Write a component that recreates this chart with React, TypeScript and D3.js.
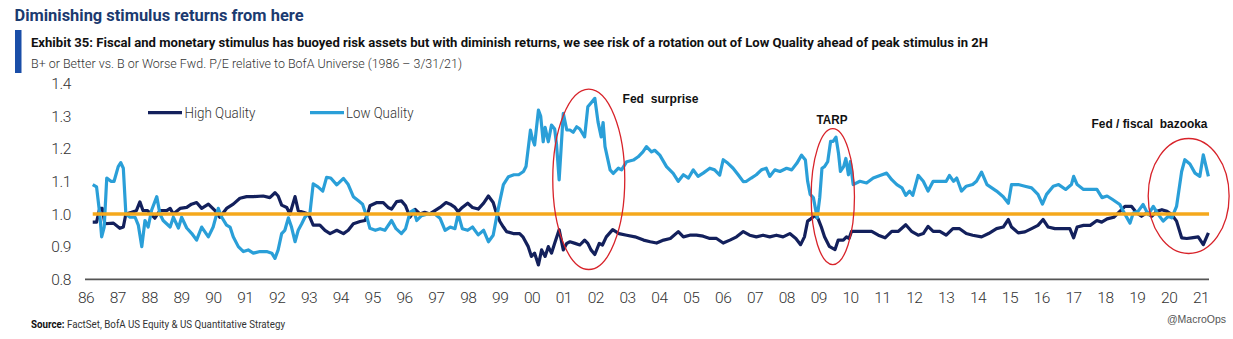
import React from "react";
import * as d3 from "d3";

const titleText = "Diminishing stimulus returns from here";
const exhibitText =
  "Exhibit 35: Fiscal and monetary stimulus has buoyed risk assets but with diminish returns, we see risk of a rotation out of Low Quality ahead of peak stimulus in 2H";
const subtitleText = "B+ or Better vs. B or Worse Fwd. P/E relative to BofA Universe (1986 \u2013 3/31/21)";
const sourceLabel = "Source:";
const sourceText = " FactSet, BofA US Equity & US Quantitative Strategy";
const creditText = "@MacroOps";

const yTicks = [0.8, 0.9, 1.0, 1.1, 1.2, 1.3, 1.4];
const xTickYears = d3.range(1986, 2022);
const seriesNames = ["High Quality", "Low Quality"];
const baselineValue = 1.0;

// [year, value]
const lowQuality: [number, number][] = [
  [1986.18, 1.09], [1986.3, 1.083], [1986.4, 1.0], [1986.46, 0.93], [1986.54, 0.96], [1986.62, 1.11],
  [1986.75, 1.1], [1986.85, 1.1], [1986.98, 1.145], [1987.06, 1.157], [1987.14, 1.14], [1987.22, 1.0],
  [1987.35, 0.99], [1987.51, 0.99], [1987.61, 0.966], [1987.72, 0.9], [1987.82, 0.98], [1987.92, 0.96],
  [1988.03, 1.012], [1988.19, 1.053], [1988.29, 1.0], [1988.39, 0.98], [1988.61, 0.96], [1988.71, 0.99],
  [1988.87, 0.957], [1988.97, 0.99], [1989.13, 0.957], [1989.29, 0.94], [1989.44, 0.92], [1989.6, 0.96],
  [1989.81, 0.93], [1989.96, 0.96], [1990.12, 1.017], [1990.23, 0.99], [1990.38, 0.966], [1990.49, 0.96],
  [1990.59, 0.93], [1990.75, 0.9], [1990.91, 0.885], [1991.06, 0.89], [1991.22, 0.88], [1991.43, 0.885],
  [1991.64, 0.885], [1991.8, 0.88], [1991.9, 0.864], [1992.0, 0.89], [1992.11, 0.94], [1992.21, 0.95],
  [1992.32, 0.988], [1992.42, 0.96], [1992.53, 0.915], [1992.63, 0.95], [1992.74, 0.97], [1992.84, 0.99],
  [1993.0, 1.005], [1993.1, 1.092], [1993.25, 1.083], [1993.4, 1.07], [1993.52, 1.112], [1993.65, 1.11],
  [1993.84, 1.089], [1994.05, 1.109], [1994.2, 1.09], [1994.36, 1.053], [1994.55, 1.038], [1994.65, 1.03],
  [1994.78, 0.992], [1994.88, 0.956], [1995.05, 0.95], [1995.2, 0.955], [1995.35, 0.95], [1995.56, 0.98],
  [1995.7, 0.955], [1995.87, 0.94], [1996.0, 0.955], [1996.14, 1.005], [1996.25, 1.012], [1996.35, 0.98],
  [1996.5, 0.995], [1996.7, 1.0], [1996.92, 1.0], [1997.08, 0.987], [1997.24, 0.95], [1997.4, 0.96],
  [1997.55, 0.955], [1997.65, 1.0], [1997.78, 0.955], [1997.95, 0.95], [1998.1, 0.96], [1998.28, 0.936],
  [1998.45, 0.95], [1998.6, 0.915], [1998.75, 0.935], [1998.86, 0.992], [1998.96, 1.04], [1999.07, 1.09],
  [1999.23, 1.114], [1999.4, 1.12], [1999.55, 1.12], [1999.7, 1.13], [1999.78, 1.145], [1999.92, 1.257],
  [1999.98, 1.23], [2000.05, 1.211], [2000.17, 1.318], [2000.24, 1.3], [2000.32, 1.221], [2000.38, 1.265],
  [2000.48, 1.221], [2000.58, 1.272], [2000.68, 1.26], [2000.74, 1.211], [2000.82, 1.104], [2000.95, 1.308],
  [2001.06, 1.257], [2001.16, 1.257], [2001.26, 1.25], [2001.37, 1.267], [2001.47, 1.26], [2001.62, 1.236],
  [2001.72, 1.328], [2001.82, 1.34], [2001.94, 1.354], [2002.04, 1.282], [2002.14, 1.236], [2002.2, 1.28],
  [2002.26, 1.206], [2002.42, 1.135], [2002.52, 1.124], [2002.68, 1.14], [2002.78, 1.135], [2002.94, 1.16],
  [2003.15, 1.165], [2003.3, 1.175], [2003.45, 1.19], [2003.56, 1.206], [2003.72, 1.19], [2003.82, 1.195],
  [2003.98, 1.18], [2004.19, 1.145], [2004.4, 1.124], [2004.56, 1.1], [2004.72, 1.12], [2004.88, 1.11],
  [2005.03, 1.135], [2005.18, 1.115], [2005.34, 1.125], [2005.55, 1.14], [2005.7, 1.135], [2005.86, 1.119],
  [2005.97, 1.166], [2006.12, 1.155], [2006.28, 1.14], [2006.44, 1.12], [2006.6, 1.099], [2006.7, 1.1],
  [2006.85, 1.11], [2007.01, 1.12], [2007.17, 1.135], [2007.32, 1.14], [2007.43, 1.115], [2007.59, 1.135],
  [2007.75, 1.13], [2007.96, 1.14], [2008.12, 1.135], [2008.28, 1.155], [2008.43, 1.18], [2008.55, 1.165],
  [2008.62, 1.1], [2008.7, 1.06], [2008.8, 1.05], [2008.92, 0.988], [2009.0, 1.05], [2009.07, 1.14],
  [2009.15, 1.145], [2009.25, 1.16], [2009.34, 1.222], [2009.42, 1.222], [2009.51, 1.235], [2009.59, 1.185],
  [2009.65, 1.13], [2009.75, 1.145], [2009.82, 1.17], [2009.9, 1.12], [2009.96, 1.16], [2010.05, 1.09],
  [2010.26, 1.1], [2010.47, 1.095], [2010.68, 1.11], [2010.89, 1.118], [2011.1, 1.125], [2011.26, 1.105],
  [2011.42, 1.09], [2011.58, 1.08], [2011.7, 1.057], [2011.82, 1.07], [2011.92, 1.057], [2012.09, 1.118],
  [2012.25, 1.1], [2012.4, 1.07], [2012.56, 1.1], [2012.77, 1.1], [2012.97, 1.1], [2013.07, 1.118],
  [2013.2, 1.1], [2013.3, 1.11], [2013.45, 1.07], [2013.6, 1.085], [2013.8, 1.09], [2013.92, 1.1],
  [2014.08, 1.128], [2014.25, 1.09], [2014.4, 1.08], [2014.55, 1.07], [2014.76, 1.053], [2014.92, 1.033],
  [2015.02, 1.09], [2015.23, 1.09], [2015.44, 1.085], [2015.65, 1.08], [2015.85, 1.06], [2015.99, 1.03],
  [2016.12, 1.06], [2016.33, 1.085], [2016.5, 1.09], [2016.72, 1.075], [2016.9, 1.09], [2016.97, 1.115],
  [2017.08, 1.09], [2017.28, 1.075], [2017.49, 1.075], [2017.7, 1.075], [2017.86, 1.05], [2018.02, 1.055],
  [2018.18, 1.045], [2018.42, 1.029], [2018.53, 1.008], [2018.74, 0.972], [2018.84, 1.003], [2018.99, 1.008],
  [2019.15, 1.029], [2019.31, 0.998], [2019.47, 1.023], [2019.63, 0.998], [2019.78, 0.978], [2019.94, 0.993],
  [2020.05, 0.988], [2020.2, 1.023], [2020.36, 1.13], [2020.46, 1.166], [2020.62, 1.153], [2020.78, 1.125],
  [2020.93, 1.115], [2021.04, 1.181], [2021.2, 1.115],
];

const highQuality: [number, number][] = [
  [1986.18, 0.975], [1986.3, 0.975], [1986.4, 1.017], [1986.48, 1.017], [1986.56, 0.97], [1986.83, 0.972],
  [1987.03, 0.956], [1987.14, 0.96], [1987.22, 1.0], [1987.4, 1.005], [1987.55, 1.01], [1987.66, 1.037],
  [1987.76, 1.01], [1987.9, 1.01], [1988.13, 0.987], [1988.29, 1.01], [1988.5, 1.01], [1988.61, 1.017],
  [1988.71, 1.0], [1988.92, 1.017], [1989.13, 1.02], [1989.28, 1.03], [1989.44, 1.035], [1989.6, 1.017],
  [1989.81, 1.03], [1990.02, 1.01], [1990.17, 0.99], [1990.38, 1.017], [1990.59, 1.03], [1990.8, 1.048],
  [1991.01, 1.053], [1991.22, 1.053], [1991.53, 1.055], [1991.74, 1.05], [1991.9, 1.065], [1992.0, 1.055],
  [1992.11, 1.027], [1992.27, 1.02], [1992.37, 1.0], [1992.53, 1.053], [1992.63, 1.01], [1992.79, 1.005],
  [1992.95, 1.0], [1993.1, 0.966], [1993.31, 0.966], [1993.47, 0.95], [1993.63, 0.94], [1993.84, 0.95],
  [1994.05, 0.94], [1994.2, 0.95], [1994.36, 0.97], [1994.57, 0.977], [1994.73, 0.98], [1994.83, 1.007],
  [1994.88, 1.025], [1995.1, 1.035], [1995.3, 1.035], [1995.45, 1.02], [1995.56, 1.015], [1995.72, 1.038],
  [1995.87, 1.04], [1996.0, 1.025], [1996.14, 0.99], [1996.3, 1.014], [1996.45, 1.0], [1996.6, 1.005],
  [1996.76, 1.0], [1996.92, 1.01], [1997.08, 1.02], [1997.27, 1.035], [1997.4, 1.03], [1997.55, 1.02],
  [1997.65, 1.007], [1997.78, 1.02], [1997.95, 1.033], [1998.1, 1.02], [1998.28, 1.015], [1998.45, 1.033],
  [1998.6, 1.055], [1998.75, 1.035], [1998.86, 1.0], [1998.96, 0.977], [1999.07, 0.96], [1999.17, 0.946],
  [1999.38, 0.94], [1999.58, 0.94], [1999.69, 0.929], [1999.85, 0.9], [1999.95, 0.87], [2000.05, 0.88],
  [2000.17, 0.844], [2000.27, 0.89], [2000.38, 0.87], [2000.48, 0.9], [2000.58, 0.88], [2000.68, 0.91],
  [2000.82, 0.952], [2000.95, 0.89], [2001.06, 0.91], [2001.16, 0.915], [2001.32, 0.91], [2001.47, 0.905],
  [2001.62, 0.92], [2001.72, 0.91], [2001.82, 0.89], [2001.94, 0.876], [2002.08, 0.91], [2002.18, 0.905],
  [2002.3, 0.93], [2002.5, 0.952], [2002.7, 0.94], [2002.94, 0.935], [2003.2, 0.93], [2003.47, 0.92],
  [2003.68, 0.915], [2003.88, 0.911], [2004.1, 0.92], [2004.31, 0.925], [2004.56, 0.946], [2004.72, 0.93],
  [2004.92, 0.935], [2005.13, 0.935], [2005.34, 0.932], [2005.55, 0.925], [2005.76, 0.925], [2005.97, 0.911],
  [2006.18, 0.92], [2006.39, 0.93], [2006.6, 0.946], [2006.8, 0.935], [2007.01, 0.93], [2007.22, 0.935],
  [2007.43, 0.93], [2007.64, 0.935], [2007.85, 0.93], [2008.06, 0.94], [2008.25, 0.925], [2008.4, 0.906],
  [2008.52, 0.93], [2008.62, 0.978], [2008.72, 0.985], [2008.85, 0.995], [2008.95, 0.985], [2009.05, 0.96],
  [2009.15, 0.93], [2009.3, 0.901], [2009.48, 0.891], [2009.58, 0.92], [2009.74, 0.92], [2009.84, 0.93],
  [2009.92, 0.925], [2010.0, 0.947], [2010.21, 0.947], [2010.42, 0.947], [2010.63, 0.947], [2010.84, 0.935],
  [2011.05, 0.927], [2011.26, 0.947], [2011.47, 0.947], [2011.7, 0.967], [2011.88, 0.947], [2012.09, 0.935],
  [2012.25, 0.94], [2012.4, 0.962], [2012.56, 0.947], [2012.77, 0.947], [2012.97, 0.935], [2013.18, 0.955],
  [2013.39, 0.955], [2013.6, 0.94], [2013.8, 0.935], [2014.08, 0.93], [2014.3, 0.94], [2014.55, 0.955],
  [2014.76, 0.96], [2014.92, 0.983], [2015.02, 0.96], [2015.23, 0.942], [2015.44, 0.945], [2015.65, 0.955],
  [2015.85, 0.965], [2016.01, 0.983], [2016.17, 0.96], [2016.38, 0.955], [2016.64, 0.955], [2016.85, 0.955],
  [2016.97, 0.927], [2017.08, 0.96], [2017.28, 0.965], [2017.49, 0.965], [2017.7, 0.98], [2017.85, 0.975],
  [2018.02, 0.985], [2018.23, 0.99], [2018.42, 1.008], [2018.58, 1.023], [2018.79, 1.023], [2018.95, 1.003],
  [2019.1, 0.993], [2019.26, 1.003], [2019.42, 0.993], [2019.58, 1.008], [2019.74, 1.013], [2019.9, 1.008],
  [2020.05, 0.998], [2020.2, 0.978], [2020.36, 0.927], [2020.52, 0.925], [2020.67, 0.927], [2020.88, 0.93],
  [2021.04, 0.906], [2021.2, 0.942],
];

const annotationLabels = ["Fed  surprise", "TARP", "Fed / fiscal  bazooka"];

const NAVY = "#13205c";
const LIGHT = "#2a9fd8";
const ORANGE = "#f5a81c";
const RED = "#d8232a";
const TICK_FONT = "'Roboto', sans-serif";
const HEAD_FONT = "'Roboto', 'Liberation Sans', sans-serif";
const ANNO_FONT = "'Liberation Sans', Arial, sans-serif";

export default function App() {
  const W = 1233;
  const H = 339;
  const x = d3.scaleLinear().domain([1986, 2021.25]).range([87, 1210]);
  const y = d3.scaleLinear().domain([0.8, 1.4]).range([279.3, 83.3]);
  const line = d3
    .line<[number, number]>()
    .x((d) => x(d[0]))
    .y((d) => y(d[1]))
    .curve(d3.curveLinear);

  const ellipses = [
    { cx: x(2001.75), cy: y(1.106), rx: x(2002.88) - x(2001.75), ry: y(0.83) - y(1.106), label: annotationLabels[0], lx: 622.5, ly: 103, anchor: "start", tl: 76 },
    { cx: x(2009.41), cy: y(1.053), rx: x(2010.09) - x(2009.41), ry: y(0.845) - y(1.053), label: annotationLabels[1], lx: 816.5, ly: 124, anchor: "start", tl: 31 },
    { cx: x(2020.58), cy: y(1.055), rx: x(2021.85) - x(2020.58), ry: y(0.879) - y(1.055), label: annotationLabels[2], lx: 1091.5, ly: 128, anchor: "start", tl: 116 },
  ];

  return (
    <svg
      width={W}
      height={H}
      viewBox={`0 0 ${W} ${H}`}
      style={{ position: "absolute", left: 0, top: 0, background: "#fff" }}
    >
      <rect x={0} y={0} width={W} height={H} fill="#fff" />
      <text x={14.5} y={21} fontFamily={HEAD_FONT} fontWeight={700} fontSize={16.5} fill="#1b3a70" textLength={289} lengthAdjust="spacingAndGlyphs">
        {titleText}
      </text>
      <rect x={15} y={30} width={6.5} height={43} fill="#1a4ea8" />
      <text x={31} y={46.5} fontFamily={HEAD_FONT} fontWeight={700} fontSize={13.5} fill="#111" textLength={957} lengthAdjust="spacingAndGlyphs">
        {exhibitText}
      </text>
      <text x={31} y={68} fontFamily={HEAD_FONT} fontWeight={300} fontSize={12.5} fill="#333" textLength={431} lengthAdjust="spacingAndGlyphs">
        {subtitleText}
      </text>

      {yTicks.map((t) => (
        <text key={t} x={71} y={y(t)} dy="0.36em" textAnchor="end" fontFamily={TICK_FONT} fontWeight={300} fontSize={15.5} fill="#333" letterSpacing={-0.4}>
          {t.toFixed(1)}
        </text>
      ))}

      <line x1={85} x2={1209} y1={y(0.8)} y2={y(0.8)} stroke="#555" strokeWidth={1.8} />
      {xTickYears.map((yr) => (
        <text key={yr} x={x(yr) - 1} y={303} textAnchor="middle" fontFamily={TICK_FONT} fontWeight={300} fontSize={15.5} fill="#333" letterSpacing={-0.5}>
          {String(yr % 100).padStart(2, "0")}
        </text>
      ))}

      <path d={line(highQuality) || ""} fill="none" stroke={NAVY} strokeWidth={3.2} strokeLinejoin="round" />
      <path d={line(lowQuality) || ""} fill="none" stroke={LIGHT} strokeWidth={3.2} strokeLinejoin="round" />

      <line x1={x(1986.18)} x2={x(2021.22)} y1={y(baselineValue)} y2={y(baselineValue)} stroke={ORANGE} strokeWidth={3.5} />

      <line x1={148} x2={182} y1={112.7} y2={112.7} stroke={NAVY} strokeWidth={3.3} />
      <text x={184.5} y={118.3} fontFamily={TICK_FONT} fontWeight={300} fontSize={15} fill="#333" textLength={71} lengthAdjust="spacingAndGlyphs">
        {seriesNames[0]}
      </text>
      <line x1={310} x2={344} y1={112.7} y2={112.7} stroke={LIGHT} strokeWidth={3.3} />
      <text x={346} y={118.3} fontFamily={TICK_FONT} fontWeight={300} fontSize={15} fill="#333" textLength={67.5} lengthAdjust="spacingAndGlyphs">
        {seriesNames[1]}
      </text>

      {ellipses.map((e, i) => (
        <g key={i}>
          <ellipse cx={e.cx} cy={e.cy} rx={e.rx} ry={e.ry} fill="none" stroke={RED} strokeWidth={1.3} />
          <text x={e.lx} y={e.ly} textAnchor={e.anchor as any} fontFamily={ANNO_FONT} fontWeight={700} fontSize={13} fill="#111" style={{ whiteSpace: "pre" }} textLength={e.tl} lengthAdjust="spacingAndGlyphs">
            {e.label}
          </text>
        </g>
      ))}

      <text x={31} y={327.5} fontFamily={HEAD_FONT} fontSize={10.5} fill="#333" textLength={254} lengthAdjust="spacingAndGlyphs">
        <tspan fontWeight={700} fill="#111">{sourceLabel}</tspan>
        <tspan style={{ whiteSpace: "pre" }}>{sourceText}</tspan>
      </text>
      <text x={1226} y={323} textAnchor="end" fontFamily={ANNO_FONT} fontSize={10.5} fill="#555">
        {creditText}
      </text>
    </svg>
  );
}
